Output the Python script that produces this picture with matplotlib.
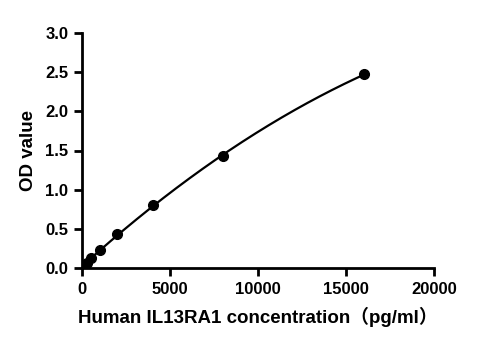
import numpy as np
import matplotlib.pyplot as plt

plt.rcParams['font.family'] = ['Liberation Sans', 'Noto Sans CJK SC', 'DejaVu Sans']
plt.rcParams['font.weight'] = 'bold'

# standard curve points
conc = [0, 250, 500, 1000, 2000, 4000, 8000, 16000]
od = [0.01, 0.07, 0.13, 0.23, 0.43, 0.80, 1.43, 2.47]

# smooth fitted curve through the standards
coef = np.polyfit(conc, od, 2)
xs = np.linspace(0, 16000, 300)
ys = np.polyval(coef, xs)

fig = plt.figure(figsize=(4.89, 3.5), dpi=100)
ax = fig.add_axes([0.168, 0.234, 0.72, 0.672])

ax.plot(xs, ys, color='black', lw=1.6)
ax.plot(conc, od, 'o', color='black', ms=7)

ax.set_xlim(0, 20000)
ax.set_ylim(0, 3.0)
ax.set_xticks([0, 5000, 10000, 15000, 20000])
ax.set_yticks([0, 0.5, 1.0, 1.5, 2.0, 2.5, 3.0])
ax.set_yticklabels(['0.0', '0.5', '1.0', '1.5', '2.0', '2.5', '3.0'])

for s in ['top', 'right']:
    ax.spines[s].set_visible(False)
for s in ['left', 'bottom']:
    ax.spines[s].set_linewidth(2)
ax.tick_params(width=2, length=6, labelsize=12, pad=4)
for lab in ax.get_xticklabels() + ax.get_yticklabels():
    lab.set_fontweight('bold')

ax.set_xlabel('Human IL13RA1 concentration（pg/ml）', fontsize=13.5, fontweight='bold', labelpad=7)
ax.set_ylabel('OD value', fontsize=13.5, fontweight='bold', labelpad=6)

fig.savefig('out.png', dpi=100)
